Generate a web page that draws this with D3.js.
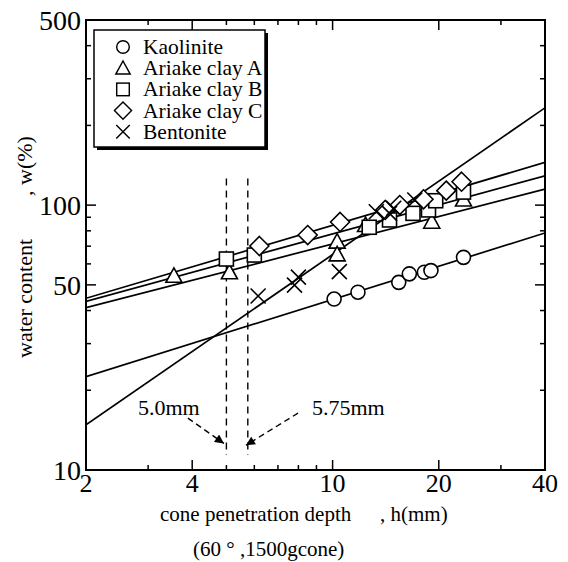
<!DOCTYPE html>
<html>
<head>
<meta charset="utf-8">
<script src="https://cdn.jsdelivr.net/npm/d3@7"></script>
<style>
  body { margin: 0; background: #fff; }
  svg text { font-family: "Liberation Serif", "Times New Roman", serif; fill: #000; }
</style>
</head>
<body>
<svg id="chart" width="568" height="562"></svg>
<script>
// cone penetration depth h (mm) vs water content w (%)
var kaolinite = [[10.1, 44.2], [11.8, 46.9], [15.4, 51.1], [16.5, 55.0], [18.2, 55.8], [19.0, 56.6], [23.5, 63.5]];
var ariakeA = [[3.55, 54.1], [5.1, 55.8], [10.3, 72.8], [10.3, 65.2], [12.4, 84.1], [19.1, 86.6], [23.5, 105]];
var ariakeB = [[5.0, 62.6], [6.0, 64.8], [12.7, 82.5], [14.5, 87.9], [16.9, 93.1], [18.7, 95.9], [19.6, 103.9], [23.5, 112]];
var ariakeC = [[6.2, 70.1], [8.5, 77.1], [10.5, 86.4], [14.1, 95.9], [15.5, 100.1], [18.1, 105.2], [21.0, 113.4], [23.2, 122.6]];
var bentonite = [[6.15, 45.4], [7.8, 49.9], [8.0, 53.5], [10.45, 56.1], [13.3, 94.4], [14.5, 93.1], [14.9, 97.3], [17.1, 104.6]];

// fitted lines: w at h = 2 and h = 40
var fitKaolinite = [[2, 22.5], [40, 78.5]];
var fitA = [[2, 41], [40, 115]];
var fitB = [[2, 43.3], [40, 129]];
var fitC = [[2, 44.5], [40, 145]];
var fitBentonite = [[2, 14.8], [40, 233]];

var xTicks = [2, 3, 4, 5, 6, 7, 8, 9, 10, 20, 30, 40];
var xMajor = [4, 10, 20];
var xLabels = [2, 4, 10, 20, 40];
var yTicks = [20, 30, 40, 50, 60, 70, 80, 90, 100, 200, 300, 400];
var yMajor = [50, 100];
var yLabels = [10, 50, 100, 500];

var legendNames = ['Kaolinite', 'Ariake clay A', 'Ariake clay B', 'Ariake clay C', 'Bentonite'];
var legendSymbols = ['circle', 'triangle', 'square', 'diamond', 'cross'];

var guideDepths = [5.0, 5.75];

var pl = 86, pr = 545, pt = 20, pb = 470;

var svg = d3.select('#chart');

var x = d3.scaleLog().domain([2, 40]).range([pl, pr]);
var y = d3.scaleLog().domain([10, 500]).range([pb, pt]);

var defs = svg.append('defs');
defs.append('clipPath').attr('id', 'clip')
    .append('rect').attr('x', pl).attr('y', pt)
    .attr('width', pr - pl).attr('height', pb - pt);

var plot = svg.append('g');

// Fitted lines
var line = d3.line()
    .x(function (d) { return x(d[0]); })
    .y(function (d) { return y(d[1]); });

plot.append('g').attr('clip-path', 'url(#clip)')
    .selectAll('path')
    .data([fitKaolinite, fitA, fitB, fitC, fitBentonite])
    .enter().append('path')
    .attr('d', line)
    .attr('fill', 'none')
    .attr('stroke', '#000')
    .attr('stroke-width', 1.7);

// Dashed guide lines
plot.selectAll('line.guide')
    .data(guideDepths)
    .enter().append('line')
    .attr('class', 'guide')
    .attr('x1', function (d) { return x(d); })
    .attr('x2', function (d) { return x(d); })
    .attr('y1', y(126))
    .attr('y2', y(11.4))
    .attr('stroke', '#000')
    .attr('stroke-width', 1.4)
    .attr('stroke-dasharray', '7,5');

// Symbol drawing
function drawSymbol(g, type) {
    if (type === 'circle') {
        g.append('circle').attr('r', 7);
    } else if (type === 'triangle') {
        g.append('path').attr('d', 'M0,-8L8,6.5L-8,6.5Z');
    } else if (type === 'square') {
        g.append('rect').attr('x', -7).attr('y', -7).attr('width', 14).attr('height', 14);
    } else if (type === 'diamond') {
        g.append('path').attr('d', 'M0,-9.5L9.5,0L0,9.5L-9.5,0Z');
    } else {
        g.append('path').attr('d', 'M-7.5,-7.5L7.5,7.5M7.5,-7.5L-7.5,7.5');
    }
}

var series = [
    { data: kaolinite, sym: 'circle' },
    { data: ariakeA, sym: 'triangle' },
    { data: ariakeB, sym: 'square' },
    { data: ariakeC, sym: 'diamond' },
    { data: bentonite, sym: 'cross' }
];

series.forEach(function (s) {
    plot.append('g').selectAll('g')
        .data(s.data)
        .enter().append('g')
        .attr('transform', function (d) { return 'translate(' + x(d[0]) + ',' + y(d[1]) + ')'; })
        .attr('fill', '#fff')
        .attr('stroke', '#000')
        .attr('stroke-width', 1.6)
        .each(function () { drawSymbol(d3.select(this), s.sym); });
});

// Frame
svg.append('rect')
    .attr('x', pl).attr('y', pt)
    .attr('width', pr - pl).attr('height', pb - pt)
    .attr('fill', 'none').attr('stroke', '#000').attr('stroke-width', 2);

// Inward ticks on all four sides
function tickLen(v, major) { return major.indexOf(v) >= 0 ? 10 : 5; }

var ticks = svg.append('g').attr('stroke', '#000').attr('stroke-width', 1.5);
xTicks.forEach(function (v) {
    var len = tickLen(v, xMajor);
    ticks.append('line').attr('x1', x(v)).attr('x2', x(v)).attr('y1', pb).attr('y2', pb - len);
    ticks.append('line').attr('x1', x(v)).attr('x2', x(v)).attr('y1', pt).attr('y2', pt + len);
});
yTicks.forEach(function (v) {
    var len = tickLen(v, yMajor);
    ticks.append('line').attr('y1', y(v)).attr('y2', y(v)).attr('x1', pl).attr('x2', pl + len);
    ticks.append('line').attr('y1', y(v)).attr('y2', y(v)).attr('x1', pr).attr('x2', pr - len);
});

// Tick labels
svg.selectAll('text.xl')
    .data(xLabels)
    .enter().append('text')
    .attr('class', 'xl')
    .attr('x', function (d) { return x(d); })
    .attr('y', pb + 22)
    .attr('text-anchor', 'middle')
    .style('font-size', '26px')
    .text(function (d) { return d; });

svg.selectAll('text.yl')
    .data(yLabels)
    .enter().append('text')
    .attr('class', 'yl')
    .attr('x', pl - 5)
    .attr('y', function (d) { return y(d); })
    .attr('dy', '0.35em')
    .attr('text-anchor', 'end')
    .style('font-size', '28px')
    .text(function (d) { return d; });

// Axis titles
var xTitle = svg.append('text').attr('y', 521).style('font-size', '21px');
xTitle.append('tspan').attr('x', 160).text('cone penetration depth');
xTitle.append('tspan').attr('x', 380).text(', h(mm)');

svg.append('text')
    .attr('x', 193).attr('y', 556)
    .style('font-size', '21px')
    .style('white-space', 'pre')
    .text('(60 \u00b0 ,1500gcone)');

var yTitle = svg.append('text')
    .attr('transform', 'translate(32,0) rotate(-90)')
    .style('font-size', '22px');
yTitle.append('tspan').attr('x', -358).text('water content');
yTitle.append('tspan').attr('x', -196).text(', w(%)');

// Arrows to the guide lines
defs.append('marker')
    .attr('id', 'arrow')
    .attr('viewBox', '0 0 10 10')
    .attr('refX', 10).attr('refY', 5)
    .attr('markerWidth', 13).attr('markerHeight', 9)
    .attr('markerUnits', 'userSpaceOnUse')
    .attr('orient', 'auto')
    .append('path').attr('d', 'M0,0L10,5L0,10Z').attr('fill', '#000');

var arrows = [
    { from: [3.89, 15.7], to: [4.92, 12.6] },
    { from: [7.98, 16.4], to: [5.68, 12.4] }
];
svg.selectAll('line.arrow')
    .data(arrows)
    .enter().append('line')
    .attr('class', 'arrow')
    .attr('x1', function (d) { return x(d.from[0]); })
    .attr('y1', function (d) { return y(d.from[1]); })
    .attr('x2', function (d) { return x(d.to[0]); })
    .attr('y2', function (d) { return y(d.to[1]); })
    .attr('stroke', '#000')
    .attr('stroke-width', 1.4)
    .attr('stroke-dasharray', '6,4')
    .attr('marker-end', 'url(#arrow)');

svg.append('text').attr('x', 138).attr('y', y(16.1))
    .style('font-size', '22px').text('5.0mm');
svg.append('text').attr('x', 312).attr('y', y(16.1))
    .style('font-size', '22px').text('5.75mm');

// Legend with drop shadow
var legend = svg.append('g');
legend.append('rect').attr('x', 97).attr('y', 33).attr('width', 171).attr('height', 117).attr('fill', '#000');
legend.append('rect').attr('x', 94).attr('y', 30).attr('width', 171).attr('height', 117)
    .attr('fill', '#fff').attr('stroke', '#000').attr('stroke-width', 1.5);

var rows = legend.selectAll('g.row')
    .data(legendNames)
    .enter().append('g')
    .attr('class', 'row')
    .attr('transform', function (d, i) { return 'translate(0,' + (47 + i * 21.2) + ')'; });

rows.append('g')
    .attr('transform', 'translate(123,0) scale(0.9)')
    .attr('fill', '#fff').attr('stroke', '#000').attr('stroke-width', 1.6)
    .each(function (d, i) { drawSymbol(d3.select(this), legendSymbols[i]); });

rows.append('text')
    .attr('x', 143).attr('y', 7)
    .style('font-size', '21.5px')
    .text(function (d) { return d; });
</script>
</body>
</html>
